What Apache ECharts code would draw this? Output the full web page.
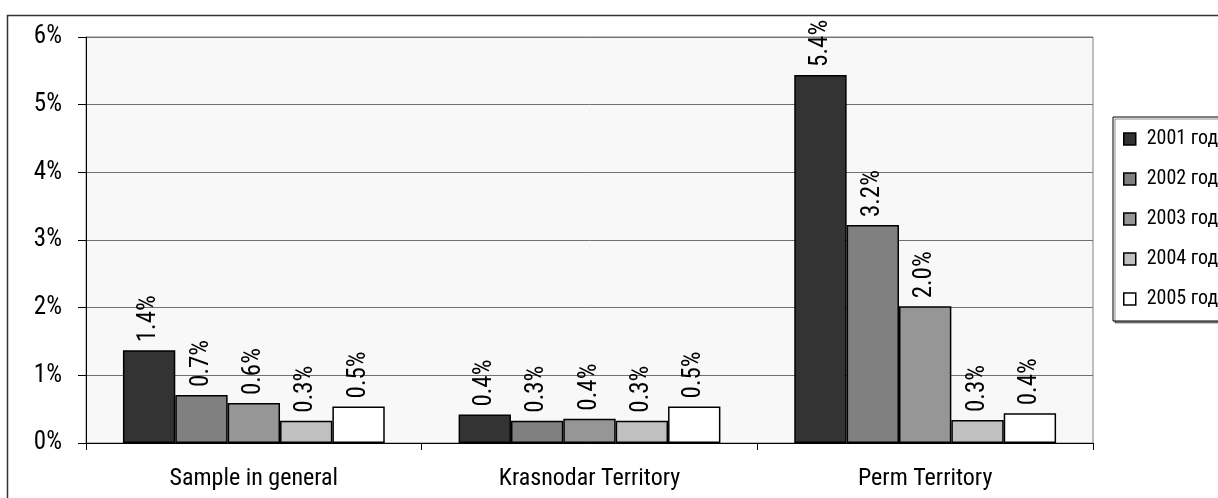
<!DOCTYPE html>
<html>
<head>
<meta charset="utf-8">
<script src="https://cdn.jsdelivr.net/npm/echarts@6/dist/echarts.min.js"></script>
<style>
  html, body { margin: 0; padding: 0; background: #ffffff; }
  #chart { width: 1218px; height: 498px; }
</style>
</head>
<body>
<div id="chart"></div>
<script>
// Regions on the category axis
const categories = ['Sample in general', 'Krasnodar Territory', 'Perm Territory'];

// Share per year, percent
const y2001 = [1.37, 0.42, 5.44];
const y2002 = [0.71, 0.33, 3.22];
const y2003 = [0.59, 0.36, 2.02];
const y2004 = [0.33, 0.33, 0.34];
const y2005 = [0.54, 0.54, 0.44];

const seriesNames = ['2001 год', '2002 год', '2003 год', '2004 год', '2005 год'];
const seriesValues = [y2001, y2002, y2003, y2004, y2005];
const seriesColors = ['#333333', '#808080', '#969696', '#c0c0c0', '#ffffff'];

// Value axis ticks
const yMin = 0;
const yMax = 6;
const yStep = 1;

const FONT = "'Liberation Sans Narrow', 'Arial Narrow', 'Roboto Condensed', 'Noto Sans Condensed', 'DejaVu Sans Condensed', sans-serif";

const chart = echarts.init(document.getElementById('chart'), null, { renderer: 'canvas' });

const series = seriesNames.map((name, i) => ({
  name: name,
  type: 'bar',
  data: seriesValues[i],
  barGap: '0%',
  barCategoryGap: '22%',
  itemStyle: {
    color: seriesColors[i],
    borderColor: '#000000',
    borderWidth: 1.5
  },
  label: {
    show: true,
    position: 'top',
    rotate: 90,
    align: 'left',
    verticalAlign: 'middle',
    distance: 8,
    color: '#000000',
    fontFamily: FONT,
    fontSize: 25,
    formatter: p => p.value.toFixed(1) + '%'
  }
}));

chart.setOption({
  animation: false,
  backgroundColor: '#ffffff',
  textStyle: { fontFamily: FONT },
  graphic: [{
    type: 'rect',
    z: -10,
    silent: true,
    shape: { x: 7.5, y: 15.5, width: 1400, height: 700 },
    style: { fill: 'none', stroke: '#333333', lineWidth: 1.5 }
  }],
  grid: {
    left: 86,
    right: 125,
    top: 37,
    bottom: 55,
    show: true,
    backgroundColor: '#f8f8f8',
    borderColor: '#808080',
    borderWidth: 1
  },
  legend: {
    orient: 'vertical',
    left: 1113,
    top: 117,
    padding: [12, 10, 12, 10],
    itemGap: 20,
    itemWidth: 12,
    itemHeight: 12,
    icon: 'rect',
    backgroundColor: '#ffffff',
    borderColor: '#000000',
    borderWidth: 1,
    shadowColor: 'rgba(0,0,0,0.45)',
    shadowOffsetX: 2,
    shadowOffsetY: 2,
    itemStyle: { borderColor: '#000000', borderWidth: 1.5 },
    textStyle: {
      fontFamily: FONT,
      fontSize: 20,
      lineHeight: 16,
      color: '#000000',
      padding: [0, 0, 0, 6]
    },
    data: seriesNames
  },
  xAxis: {
    type: 'category',
    data: categories,
    axisLine: { show: true, lineStyle: { color: '#000000', width: 1 } },
    axisTick: { show: true, alignWithLabel: false, length: 7, lineStyle: { color: '#000000' } },
    axisLabel: {
      color: '#000000',
      fontFamily: FONT,
      fontSize: 24,
      margin: 24
    },
    splitLine: { show: false }
  },
  yAxis: {
    type: 'value',
    min: yMin,
    max: yMax,
    interval: yStep,
    axisLine: { show: true, lineStyle: { color: '#000000', width: 1 } },
    axisTick: { show: true, length: 8, lineStyle: { color: '#000000' } },
    axisLabel: {
      color: '#000000',
      fontFamily: FONT,
      fontSize: 25,
      margin: 24,
      formatter: '{value}%'
    },
    splitLine: { show: true, lineStyle: { color: '#707070', width: 1 } }
  },
  series: series
});
</script>
</body>
</html>
